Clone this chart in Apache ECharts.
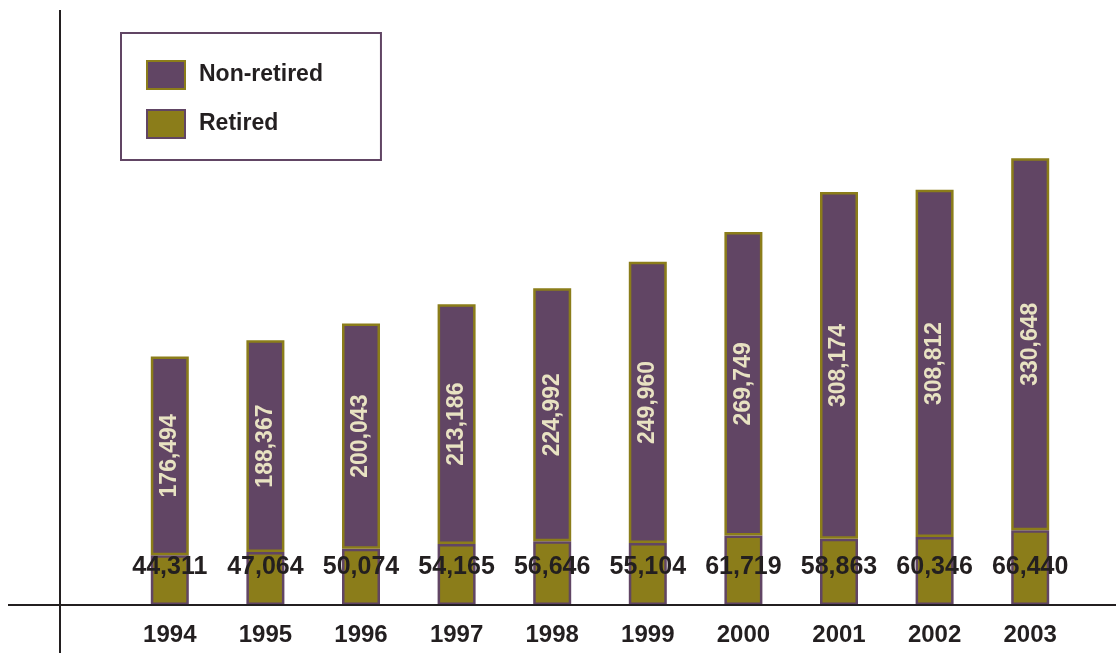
<!DOCTYPE html>
<html><head><meta charset="utf-8">
<script src="https://cdn.jsdelivr.net/npm/echarts@6/dist/echarts.min.js"></script>
<style>html,body{margin:0;padding:0;background:#fff}#c{width:1116px;height:653px}</style>
</head><body><div id="c"></div>
<script>
const years = ['1994','1995','1996','1997','1998','1999','2000','2001','2002','2003'];
const retired = [44311,47064,50074,54165,56646,55104,61719,58863,60346,66440];
const nonRetired = [176494,188367,200043,213186,224992,249960,269749,308174,308812,330648];
const PURPLE = '#614564', OLIVE = '#8b7d1a', INK = '#231f20';
const fmt = v => v.toLocaleString('en-US');
const chart = echarts.init(document.getElementById('c'));
chart.setOption({
  animation: false,
  textStyle: {fontFamily: 'Liberation Sans, Arial, sans-serif'},
  grid: {left: 122, right: 38, top: 155, bottom: 48},
  legend: {
    orient: 'vertical', left: 121, top: 33,
    padding: [27, 58, 21, 25], itemGap: 19, itemWidth: 38, itemHeight: 28,
    icon: 'rect',
    borderColor: PURPLE, borderWidth: 2,
    data: ['Non-retired', 'Retired'],
    textStyle: {fontSize: 23, fontWeight: 'bold', color: INK, padding: [4,0,0,9]}
  },
  xAxis: {
    type: 'category', data: years,
    axisLine: {show: false}, axisTick: {show: false},
    axisLabel: {fontSize: 24, fontWeight: 'bold', color: INK, margin: 18}
  },
  yAxis: {type: 'value', min: 0, max: 400000, show: false, splitLine: {show: false}},
  series: [
    {name: 'Retired', type: 'bar', stack: 't', data: retired, barWidth: 38,
     itemStyle: {color: OLIVE, borderColor: PURPLE, borderWidth: 2.5},
     label: {show: true, position: 'insideBottom', distance: 25, formatter: p => fmt(p.value),
             fontSize: 25, fontWeight: 'bold', color: INK}},
    {name: 'Non-retired', type: 'bar', stack: 't', data: nonRetired, barWidth: 38,
     itemStyle: {color: PURPLE, borderColor: OLIVE, borderWidth: 2.5},
     label: {show: true, position: 'inside', rotate: 90, formatter: p => fmt(p.value),
             align: 'center', verticalAlign: 'middle',
             fontSize: 23, fontWeight: 'bold', color: '#e8e2c2'}}
  ],
  graphic: [
    {type: 'line', shape: {x1: 8, y1: 605, x2: 1116, y2: 605}, style: {stroke: INK, lineWidth: 2}, z: 100},
    {type: 'line', shape: {x1: 60, y1: 10, x2: 60, y2: 653}, style: {stroke: INK, lineWidth: 2}, z: 100}
  ]
});
</script></body></html>
